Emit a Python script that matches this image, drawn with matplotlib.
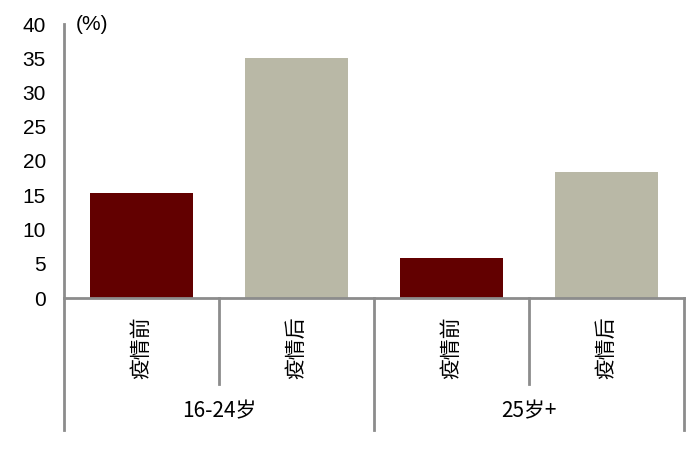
import matplotlib
matplotlib.use("Agg")
import matplotlib.pyplot as plt
import matplotlib.transforms as mtransforms

categories = ["疫情前", "疫情后", "疫情前", "疫情后"]
groups = ["16-24岁", "25岁+"]
values = [15.3, 35.1, 5.8, 18.4]
colors = ["#620000", "#B9B8A6", "#620000", "#B9B8A6"]
yticks = [0, 5, 10, 15, 20, 25, 30, 35, 40]

plt.rcParams['font.family'] = ['Liberation Sans', 'Noto Sans CJK SC', 'DejaVu Sans']

fig = plt.figure(figsize=(7, 4.59), dpi=100)
ax = fig.add_axes([64/700, 1-298/459, 620/700, 274/459])

x = list(range(len(values)))
ax.bar(x, values, width=0.665, color=colors, zorder=2)
ax.set_xlim(-0.5, len(values) - 0.5)
ax.set_ylim(0, 40)
ax.set_yticks(yticks)
ax.set_yticklabels([str(t) for t in yticks], fontsize=15)
ax.tick_params(axis='y', length=0, pad=13)
ax.set_xticks([])

for s in ["top", "right"]:
    ax.spines[s].set_visible(False)
for s in ["left", "bottom"]:
    ax.spines[s].set_color("#8C8C8C")
    ax.spines[s].set_linewidth(2)

trans = mtransforms.blended_transform_factory(ax.transData, ax.transAxes)
short = -86/274
long_ = -132/274
# separators
for xb in [-0.5, 1.5, 3.5]:
    ax.plot([xb, xb], [0, long_], transform=trans, color="#8C8C8C", lw=2, clip_on=False)
for xb in [0.5, 2.5]:
    ax.plot([xb, xb], [0, short], transform=trans, color="#8C8C8C", lw=2, clip_on=False)

cjk = ['Noto Sans CJK SC', 'DejaVu Sans']
for xi, c in zip(x, categories):
    ax.text(xi, -50/274, c, transform=trans, rotation=90, ha='center', va='center',
            fontsize=15, family=cjk)
for gi, g in enumerate(groups):
    ax.text(gi*2 + 0.5, -113/274, g, transform=trans, ha='center', va='center',
            fontsize=15, family=cjk)

ax.text(76/700, 1-25/459, "(%)", transform=fig.transFigure, ha='left', va='center', fontsize=15)

fig.savefig("out.png", dpi=100)
